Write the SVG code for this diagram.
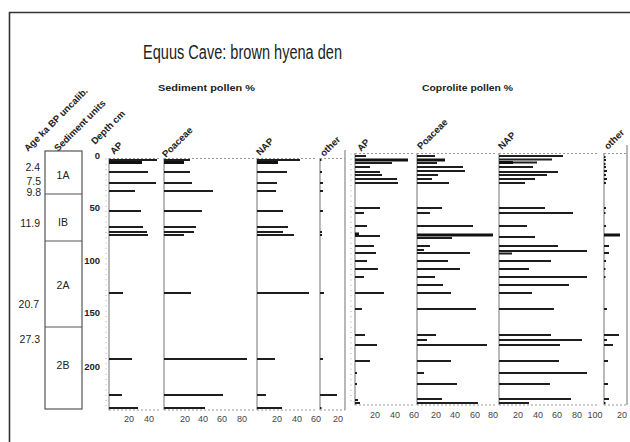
<svg xmlns="http://www.w3.org/2000/svg" width="630" height="442" viewBox="0 0 630 442">
<style>
text{font-family:"Liberation Sans",Arial,sans-serif;fill:#222}
.t{font-size:20px}
.h{font-size:9.5px;font-weight:bold}
.r{font-size:9.5px;font-weight:bold}
.n{font-size:10.5px}
.u{font-size:10.5px;text-anchor:middle}
.d{font-size:9.5px;text-anchor:end;font-weight:bold}
.k{font-size:9px;text-anchor:middle;fill:#444}
.ax{stroke:#8a8a8a;stroke-width:1.2;fill:none}
.tk{stroke:#aaa;stroke-width:1;fill:none;stroke-dasharray:1 4.25}
.hd{stroke:#999;stroke-width:1;fill:none;stroke-dasharray:2 2}
.bar{stroke:#1e1e1e;stroke-width:2;fill:none}
.bt{stroke:#111;stroke-width:3;fill:none}
.box{fill:none;stroke:#555;stroke-width:1.2}
</style>
<rect width="630" height="442" fill="#fff"/>
<path d="M9.5 460V12.5H640" fill="none" stroke="#333" stroke-width="1.6"/>
<text class="t" x="143" y="59" textLength="199" lengthAdjust="spacingAndGlyphs">Equus Cave: brown hyena den</text>
<text class="h" x="158" y="91" textLength="97" lengthAdjust="spacingAndGlyphs">Sediment  pollen %</text>
<text class="h" x="422" y="91" textLength="91" lengthAdjust="spacingAndGlyphs">Coprolite pollen %</text>

<g id="column-headers">
<text class="r" transform="translate(28,152) rotate(-45)">Age ka BP uncalib.</text>
<text class="r" transform="translate(58,152) rotate(-45)">Sediment units</text>
<text class="r" transform="translate(95,145) rotate(-45)">Depth cm</text>
</g>

<g id="ages">
<text class="n" x="40" y="171" text-anchor="end">2.4</text>
<text class="n" x="41" y="185" text-anchor="end">7.5</text>
<text class="n" x="41" y="196" text-anchor="end">9.8</text>
<text class="n" x="40" y="227" text-anchor="end">11.9</text>
<text class="n" x="39" y="308" text-anchor="end">20.7</text>
<text class="n" x="40" y="343" text-anchor="end">27.3</text>
</g>

<g id="units">
<rect class="box" x="45" y="151" width="37" height="258"/>
<path class="box" d="M45 194H82M45 241H82M45 327H82"/>
<text class="u" x="63" y="179">1A</text>
<text class="u" x="63" y="226">IB</text>
<text class="u" x="63" y="289">2A</text>
<text class="u" x="63" y="369">2B</text>
</g>

<g id="depth-axis">
<text class="d" x="100" y="159">0</text>
<text class="d" x="100" y="211">50</text>
<text class="d" x="100" y="264">100</text>
<text class="d" x="100" y="316">150</text>
<text class="d" x="100" y="370">200</text>
</g>

<g id="sed-AP">
<text class="r" transform="translate(114,155) rotate(-45)">AP</text>
<path class="tk" d="M106 158.5V410"/>
<path class="ax" d="M109 158V410"/>
<path class="hd" d="M109 158.5H160M109 410H160"/>
<path class="bar" d="M109 160H157M109 172H148M109 183H156M109 191H135M109 211H141M109 227H143M109 232H147M109 235H148M109 293H123M109 359H132M109 395H122M109 408H138"/>
<path class="bt" d="M109 162.5H142"/>
<text class="k" x="129" y="422">20</text><text class="k" x="149" y="422">40</text>
</g>

<g id="sed-Poaceae">
<text class="r" transform="translate(166,158) rotate(-45)">Poaceae</text>
<path class="ax" d="M164 158V410"/>
<path class="hd" d="M164 158.5H255M164 410H255"/>
<path class="bar" d="M164 160H190M164 172H190M164 183H192M164 191H213M164 211H202M164 227H196M164 232H194M164 235H184M164 293H191M164 359H247M164 395H223M164 408H205"/>
<path class="bt" d="M164 162.5H184"/>
<text class="k" x="185" y="422">20</text><text class="k" x="203" y="422">40</text><text class="k" x="222" y="422">60</text><text class="k" x="242" y="422">80</text>
</g>

<g id="sed-NAP">
<text class="r" transform="translate(260,156) rotate(-45)">NAP</text>
<path class="ax" d="M257 158V410"/>
<path class="hd" d="M257 158.5H316M257 410H316"/>
<path class="bar" d="M257 160H300M257 172H287M257 183H277M257 191H276M257 211H283M257 227H288M257 232H283M257 235H294M257 293H309M257 359H275M257 395H266M257 408H282"/>
<path class="bt" d="M257 162.5H278"/>
<text class="k" x="277" y="422">20</text><text class="k" x="297" y="422">40</text><text class="k" x="316" y="422">60</text>
</g>

<g id="sed-other">
<text class="r" transform="translate(324,157) rotate(-45)">other</text>
<path class="ax" d="M320 158V410M345 150V410"/>
<path class="hd" d="M320 158.5H345M320 410H345"/>
<path class="bar" d="M320 160H321.5M320 172H322M320 183H323M320 191H323M320 211H323M320 232H322M320 235H322M320 293H324M320 359H323M320 395H337M320 408H321.5"/>
<text class="k" x="338" y="422">20</text>
</g>

<g id="cop-AP">
<text class="r" transform="translate(361,152) rotate(-45)">AP</text>
<path class="tk" d="M351 153.5V405"/>
<path class="ax" d="M355 153V405"/>
<path class="hd" d="M355 153.5H413M355 405H413"/>
<path class="bar" d="M355 156H366M355 163H392M355 167H370M355 172H380M355 175H382M355 179H397M355 183H398M355 208H380M355 213H364M355 226H367M355 236H380M355 246H374M355 253H376M355 261H367M355 269H378M355 277H364M355 293H384M355 309H362M355 335H365M355 345H377M355 361H370M355 373H357M355 384H357M355 400H358M355 403H360"/>
<path class="bt" d="M355 160H408M355 234H359"/>
<text class="k" x="375" y="418">20</text><text class="k" x="395" y="418">40</text><text class="k" x="414" y="418">60</text>
</g>

<g id="cop-Poaceae">
<text class="r" transform="translate(421,150) rotate(-45)">Poaceae</text>
<path class="ax" d="M417 153V405"/>
<path class="hd" d="M417 153.5H497M417 405H497"/>
<path class="bar" d="M417 156H435M417 163H437M417 167H463M417 171H465M417 175H438M417 179H432M417 183H449M417 208H442M417 213H430M417 226H473M417 238H452M417 246H430M417 250H424M417 253H470M417 261H448M417 269H460M417 277H435M417 285H443M417 293H451M417 309H476M417 335H436M417 340H427M417 345H487M417 361H451M417 373H424M417 384H457M417 399H442M417 403H478"/>
<path class="bt" d="M417 160H445M417 235H493"/>
<text class="k" x="436" y="418">20</text><text class="k" x="455" y="418">40</text><text class="k" x="475" y="418">60</text><text class="k" x="493" y="418">80</text>
</g>

<g id="cop-NAP">
<text class="r" transform="translate(502,150) rotate(-45)">NAP</text>
<path class="ax" d="M499 153V405"/>
<path class="hd" d="M499 153.5H597M499 405H597"/>
<path class="bar" d="M499 156H563M499 159.5H552M499 162.5H537M499 167H533M499 172H558M499 175H547M499 179H535M499 183H525M499 208H545M499 213H573M499 226H527M499 237H535M499 246H558M499 251H587M499 253.5H512M499 261H551M499 269H529M499 277H587M499 285H569M499 293H532M499 309H554M499 335H551M499 340H582M499 345H560M499 361H559M499 373H587M499 384H550M499 399H571M499 403H529"/>
<path class="bt" d="M499 162.5H513"/>
<text class="k" x="518" y="418">20</text><text class="k" x="538" y="418">40</text><text class="k" x="557" y="418">60</text><text class="k" x="577" y="418">80</text><text class="k" x="595" y="418">100</text>
</g>

<g id="cop-other">
<text class="r" transform="translate(608,150) rotate(-45)">other</text>
<path class="ax" d="M604 153V405M627 145V405"/>
<path class="hd" d="M604 153.5H627M604 405H627"/>
<path class="bar" d="M604 157H605.5M604 160H606M604 164H605.5M604 167H606M604 171H607M604 175H606M604 179H607M604 183H606M604 208H606M604 213H605.5M604 226H606M604 246H609M604 253H609M604 261H606M604 269H605.5M604 277H605.5M604 309H607M604 335H619M604 340H607M604 345H613M604 361H608M604 384H608M604 399H609M604 403H605.5"/>
<path class="bt" d="M604 235H620"/>
<text class="k" x="622" y="418">20</text>
</g>
</svg>
